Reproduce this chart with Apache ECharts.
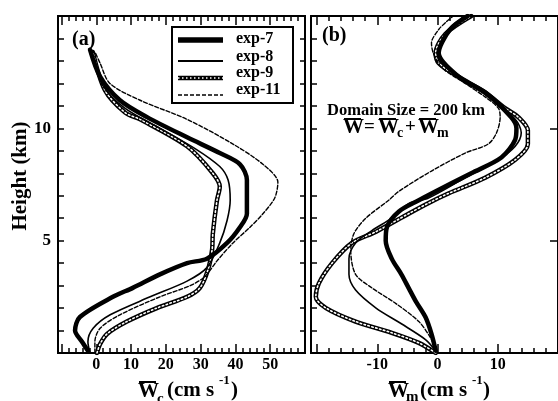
<!DOCTYPE html>
<html>
<head>
<meta charset="utf-8">
<script src="https://cdn.jsdelivr.net/npm/echarts@6/dist/echarts.min.js"></script>
<style>
  html, body { margin: 0; padding: 0; background: #fff; }
  #chart { width: 558px; height: 401px; }
</style>
</head>
<body>
<div id="chart"></div>
<script>
// height ticks (km)
const heightMinor = [1,2,3,4,5,6,7,8,9,10,11,12,13,14];
const heightLabels = [5, 10];

// panel (a) x ticks: Wc (cm s-1)
const wcMajor = [-10, 0, 10, 20, 30, 40, 50, 60];
const wcMinor = [-10,-8,-6,-4,-2,0,2,4,6,8,10,12,14,16,18,20,22,24,26,28,30,32,34,36,38,40,42,44,46,48,50,52,54,56,58];
const wcLabels = [0, 10, 20, 30, 40, 50];

// panel (b) x ticks: Wm (cm s-1)
const wmMajor = [-20, -10, 0, 10, 20];
const wmMinor = [-20,-18,-16,-14,-12,-10,-8,-6,-4,-2,0,2,4,6,8,10,12,14,16,18];
const wmLabels = [-10, 0, 10];

// panel (a) profiles [Wc, height]
const wcExp7 = [[-2.4,0.1],[-4.1,0.5],[-6.1,1.0],[-4.7,1.6],[4.8,2.5],[10.5,2.9],[18.3,3.5],[26.1,4.0],
  [31.8,4.2],[37.6,4.9],[41.3,5.6],[43.3,6.2],[43.3,7.7],[41.3,8.4],[35.5,8.9],[26.1,9.6],[14.6,10.5],
  [6.8,11.25],[1.1,12.3],[-1.8,13.5]];
const wcExp8 = [[-1.8,0],[-2.4,0.5],[-0.9,1.1],[4.0,1.7],[15.5,2.5],[26.1,3.2],[31.8,3.8],[35.5,4.9],
  [37.6,5.9],[38.5,6.8],[37.9,7.7],[35.5,8.3],[28.4,9.1],[18.3,10.0],[8.2,10.9],[1.9,11.9],[-1.2,13.3]];
const wcExp9 = [[0.2,0],[1.1,0.4],[3.1,0.85],[8.8,1.4],[17.4,2.0],[26.1,2.5],[29.8,2.9],[32.1,3.7],
  [33.3,4.6],[33.5,5.3],[34.7,6.8],[35.5,7.4],[33.5,8.0],[26.1,9.2],[12.6,10.4],[8.3,10.7],[2.5,11.7],[-1.0,13.4]];
const wcExp11 = [[-0.4,0],[-0.4,0.5],[1.1,1.1],[6.8,1.7],[18.3,2.5],[27.0,3.0],[31.2,3.4],[34.7,4.1],
  [39.3,4.9],[44.2,5.6],[47.9,6.2],[51.3,6.9],[52.2,7.6],[47.9,8.4],[39.3,9.3],[26.1,10.4],[12.6,11.25],
  [3.9,12.0],[1.1,12.9],[-0.4,13.4]];

// panel (b) profiles [Wm, height]
const wmExp7 = [[-0.3,0.1],[-1.0,0.85],[-2.0,1.6],[-3.6,2.3],[-4.8,2.9],[-6.0,3.5],[-7.6,4.2],[-8.6,5.0],
  [-8.4,5.6],[-6.4,6.3],[-3.1,6.8],[-1.0,7.1],[5.6,8.0],[10.6,8.7],[12.9,9.5],[13.1,10.0],[12.2,10.5],
  [7.9,11.6],[3.5,12.3],[0.2,13.35],[2.1,14.4],[5.0,15.0]];
const wmExp8 = [[-0.3,0.1],[-2.0,0.6],[-6.0,1.3],[-10.2,2.0],[-13.6,2.8],[-14.7,3.5],[-14.7,4.2],[-13.6,4.9],
  [-10.9,5.45],[-7.6,6.0],[-4.8,6.65],[-1.5,6.9],[4.6,7.8],[10.1,8.6],[12.9,9.2],[13.9,9.8],[12.9,10.4],
  [7.9,11.5],[3.5,12.3],[0.0,13.35],[1.8,14.4],[4.8,15.0]];
const wmExp9 = [[-0.3,0],[-3.1,0.45],[-7.6,0.9],[-13.6,1.4],[-18.5,2.0],[-20.2,2.5],[-19.7,3.1],[-17.5,4.0],
  [-14.2,4.9],[-10.2,5.4],[-4.8,6.2],[-1.3,6.7],[1.8,7.1],[7.9,7.8],[12.9,8.6],[15.0,9.3],[15.0,9.9],
  [13.4,10.5],[11.2,10.9],[7.9,11.6],[3.5,12.3],[0.2,12.9],[-0.3,13.35],[1.3,14.2],[5.6,15.0]];
const wmExp11 = [[-0.3,0.2],[-1.2,0.7],[-3.1,1.4],[-6.9,2.2],[-10.9,2.9],[-13.6,3.5],[-14.4,4.55],[-13.9,5.3],
  [-11.9,6.0],[-8.1,6.8],[-6.4,7.2],[-1.0,8.1],[4.6,8.9],[8.4,9.3],[9.8,9.8],[10.4,10.5],[10.1,10.9],
  [7.9,11.4],[4.6,12.0],[0.7,12.7],[-0.7,13.35],[-1.0,13.8],[0.2,14.4],[1.3,14.7],[2.6,15.0]];

const serif = 'Liberation Serif';
const black = '#000';

const chart = echarts.init(document.getElementById('chart'), null, { renderer: 'canvas' });

function xAx(grid, pos, min, max, ticks, len, labels) {
  return {
    type: 'value', gridIndex: grid, position: pos, min: min, max: max,
    axisLine: { show: true, onZero: false, lineStyle: { color: black, width: 2 } },
    axisTick: { show: true, inside: true, length: len, customValues: ticks, lineStyle: { color: black, width: 1.5 } },
    axisLabel: labels ? { show: true, customValues: labels, margin: 4, color: black,
      fontFamily: serif, fontWeight: 'bold', fontSize: 16 } : { show: false },
    splitLine: { show: false }
  };
}
function yAx(grid, pos, ticks, len, labels) {
  return {
    type: 'value', gridIndex: grid, position: pos, min: 0, max: 15,
    axisLine: { show: true, onZero: false, lineStyle: { color: black, width: 2 } },
    axisTick: { show: true, inside: true, length: len, customValues: ticks, lineStyle: { color: black, width: 1.5 } },
    axisLabel: labels ? { show: true, customValues: labels, margin: 7, color: black,
      fontFamily: serif, fontWeight: 'bold', fontSize: 17 } : { show: false },
    splitLine: { show: false }
  };
}

function profile(name, data, xi, yi, style) {
  return {
    name: name, type: 'line', data: data, xAxisIndex: xi, yAxisIndex: yi,
    showSymbol: false, smooth: 0.3, animation: false, z: style.z || 2,
    lineStyle: { color: style.color || black, width: style.width, type: style.type || 'solid', cap: 'round', join: 'round' }
  };
}
function fourSeries(d7, d8, d9, d11, xi, yi) {
  return [
    profile('exp-9', d9, xi, yi, { width: 4.5, z: 2 }),
    profile('exp-9 dots', d9, xi, yi, { width: 1.6, color: '#fff', type: [1.5, 2.5], z: 3 }),
    profile('exp-8', d8, xi, yi, { width: 1.6, z: 4 }),
    profile('exp-11', d11, xi, yi, { width: 1.4, type: [4, 2], z: 4 }),
    profile('exp-7', d7, xi, yi, { width: 4.5, z: 5 })
  ];
}

// text centred vertically on y
function txt(x, y, s, size, align, extra) {
  return Object.assign({ type: 'text', x: x, y: y, z: 21, style: { text: s, fill: black, fontFamily: serif,
    fontWeight: 'bold', fontSize: size, align: align || 'left', verticalAlign: 'middle' } }, extra || {});
}
function bar(x1, x2, y) {
  return { type: 'line', shape: { x1: x1, y1: y, x2: x2, y2: y }, z: 21, style: { stroke: black, lineWidth: 2 } };
}
function legLine(y, w, dash, color) {
  return { type: 'line', shape: { x1: 178, y1: y, x2: 223, y2: y }, z: 20,
    style: { stroke: color || black, lineWidth: w, lineDash: dash || null } };
}

const option = {
  backgroundColor: '#fff',
  animation: false,
  grid: [
    { left: 58, top: 16, width: 247, height: 337 },
    { left: 311, top: 16, right: -3, height: 337 }
  ],
  xAxis: [
    xAx(0, 'bottom', -11, 60, wcMajor, 9, wcLabels),
    xAx(0, 'bottom', -11, 60, wcMinor, 5, null),
    xAx(0, 'top', -11, 60, wcMajor, 9, null),
    xAx(0, 'top', -11, 60, wcMinor, 5, null),
    xAx(1, 'bottom', -21, 20, wmMajor, 9, wmLabels),
    xAx(1, 'bottom', -21, 20, wmMinor, 5, null),
    xAx(1, 'top', -21, 20, wmMajor, 9, null),
    xAx(1, 'top', -21, 20, wmMinor, 5, null)
  ],
  yAxis: [
    yAx(0, 'left', heightMinor, 6, heightLabels),
    yAx(0, 'right', heightMinor, 5, null),
    yAx(1, 'left', heightMinor, 6, null),
    yAx(1, 'right', heightLabels, 8, null)
  ],
  series: [].concat(
    fourSeries(wcExp7, wcExp8, wcExp9, wcExp11, 0, 0),
    fourSeries(wmExp7, wmExp8, wmExp9, wmExp11, 4, 2)
  ),
  graphic: [
    // y axis title
    txt(21, 176, 'Height (km)', 21, 'center', { rotation: Math.PI / 2 }),
    // panel labels
    txt(72, 40, '(a)', 20),
    txt(322, 36, '(b)', 20),
    // legend
    { type: 'rect', shape: { x: 172, y: 27, width: 121, height: 76 }, z: 19,
      style: { fill: '#fff', stroke: black, lineWidth: 2 } },
    legLine(40, 5.5),
    legLine(61, 1.8),
    legLine(78, 4.5),
    legLine(78, 1.6, [1.5, 2.5], '#fff'),
    legLine(95, 1.5, [4, 2]),
    txt(236, 39, 'exp-7', 16),
    txt(236, 57, 'exp-8', 16),
    txt(236, 73, 'exp-9', 16),
    txt(236, 90, 'exp-11', 16),
    // panel (b) annotation
    txt(406, 111, 'Domain Size = 200 km', 16.5, 'center'),
    txt(343, 128, 'W', 21), bar(344, 361, 119),
    txt(364, 127, '=', 19),
    txt(378, 128, 'W', 21), bar(379, 396, 119),
    txt(397, 133, 'c', 14),
    txt(405, 127, '+', 19),
    txt(418, 128, 'W', 21), bar(419, 436, 119),
    txt(437, 133, 'm', 14),
    // x axis title (a)
    txt(138, 392, 'W', 21), bar(139, 156, 382),
    txt(157, 399, 'c', 15),
    txt(167, 391, '(cm s', 21),
    txt(219, 381, '-1', 13),
    txt(231, 391, ')', 21),
    // x axis title (b)
    txt(388, 392, 'W', 21), bar(389, 406, 382),
    txt(406, 397, 'm', 15),
    txt(420, 391, '(cm s', 21),
    txt(472, 381, '-1', 13),
    txt(483, 391, ')', 21)
  ]
};

chart.setOption(option);
</script>
</body>
</html>
